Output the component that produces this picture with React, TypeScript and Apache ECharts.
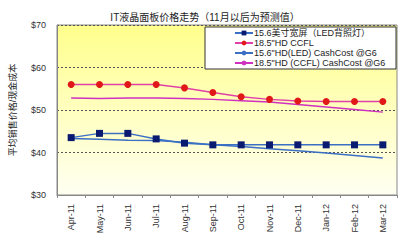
import React, { useEffect, useRef } from "react";
import * as echarts from "echarts";

const categories = ["Apr-11", "May-11", "Jun-11", "Jul-11", "Aug-11", "Sep-11", "Oct-11", "Nov-11", "Dec-11", "Jan-12", "Feb-12", "Mar-12"];
const led156 = [43.5, 44.5, 44.5, 43.2, 42.2, 41.8, 41.8, 41.8, 41.8, 41.8, 41.8, 41.8];
const ccfl185 = [56, 56, 56, 56, 55.2, 54.1, 53.1, 52.5, 52.1, 52, 52, 52];
const ledCost = [43.3, 43.1, 42.9, 42.8, 42.4, 41.8, 41.4, 40.9, 40.4, 39.9, 39.3, 38.7];
const ccflCost = [52.8, 52.7, 52.8, 52.8, 52.7, 52.5, 52.2, 51.9, 51.3, 50.7, 50.1, 49.5];
const seriesNames = ["15.6美寸宽屏（LED背照灯）", "18.5\"HD CCFL", "15.6\"HD(LED) CashCost @G6", "18.5\"HD (CCFL) CashCost @G6"];
const titleText = "IT液晶面板价格走势（11月以后为预测值）";
const yAxisName = "平均销售价格/现金成本";

const FONT = "'Liberation Sans', 'Noto Sans CJK SC', sans-serif";

export default function App() {
  const ref = useRef<HTMLDivElement>(null);
  useEffect(() => {
    const chart = echarts.init(ref.current!, null, { renderer: "svg" });
    chart.setOption({
      animation: false,
      backgroundColor: "#ffffff",
      title: {
        text: titleText,
        left: 200,
        textAlign: "center",
        top: 7,
        textStyle: { fontSize: 10, fontWeight: "normal", color: "#222", fontFamily: FONT },
      },
      graphic: [
        {
          type: "rect",
          shape: { x: 205, y: 27, width: 191, height: 42 },
          style: { fill: "#ffffff", stroke: "#333", lineWidth: 1 },
          z: 10,
        },
      ],
      legend: {
        orient: "vertical",
        left: 234,
        top: 28,
        padding: 0,
        itemGap: 0,
        itemWidth: 18,
        itemHeight: 6,
        z: 20,
        textStyle: { fontSize: 9, lineHeight: 10, color: "#222", fontFamily: FONT, padding: [0, 0, 0, -4] },
        data: seriesNames,
      },
      grid: {
        left: 53,
        right: 11,
        top: 25,
        bottom: 45,
        show: true,
        borderColor: "#888",
        borderWidth: 1,
        backgroundColor: new echarts.graphic.LinearGradient(0, 0, 0, 1, [
          { offset: 0, color: "#ffff8c" },
          { offset: 1, color: "#fffff2" },
        ]),
      },
      xAxis: {
        type: "category",
        data: categories,
        boundaryGap: true,
        axisLine: { lineStyle: { color: "#888" } },
        axisTick: { show: true, length: 3, lineStyle: { color: "#888" } },
        axisLabel: { rotate: 90, fontSize: 9, color: "#333", fontFamily: FONT, margin: 9 },
      },
      yAxis: {
        type: "value",
        min: 30,
        max: 70,
        interval: 10,
        name: yAxisName,
        nameLocation: "middle",
        nameGap: 40,
        nameRotate: 90,
        nameTextStyle: { fontSize: 9, color: "#222", fontFamily: FONT },
        axisLine: { show: true, lineStyle: { color: "#888" } },
        axisTick: { show: false },
        axisLabel: { formatter: "${value}", fontSize: 9, color: "#333", fontFamily: FONT, margin: 11 },
        splitLine: { show: true, lineStyle: { color: "#555", type: [2, 2], width: 1 } },
      },
      series: [
        {
          name: seriesNames[0],
          type: "line",
          data: led156,
          symbol: "rect",
          symbolSize: 7,
          lineStyle: { color: "#3a6fc4", width: 1.5 },
          itemStyle: { color: "#0a1a70" },
          z: 5,
        },
        {
          name: seriesNames[1],
          type: "line",
          data: ccfl185,
          symbol: "circle",
          symbolSize: 7,
          lineStyle: { color: "#e040a8", width: 1.5 },
          itemStyle: { color: "#e01818" },
          z: 5,
        },
        {
          name: seriesNames[2],
          type: "line",
          data: ledCost,
          symbol: "none",
          lineStyle: { color: "#3a6fc4", width: 1.5 },
          itemStyle: { color: "#3a6fc4" },
        },
        {
          name: seriesNames[3],
          type: "line",
          data: ccflCost,
          symbol: "none",
          lineStyle: { color: "#d030c0", width: 1.5 },
          itemStyle: { color: "#d030c0" },
        },
      ],
    });
    return () => chart.dispose();
  }, []);
  return <div ref={ref} style={{ width: 408, height: 240, position: "absolute", left: 0, top: 0 }} />;
}
